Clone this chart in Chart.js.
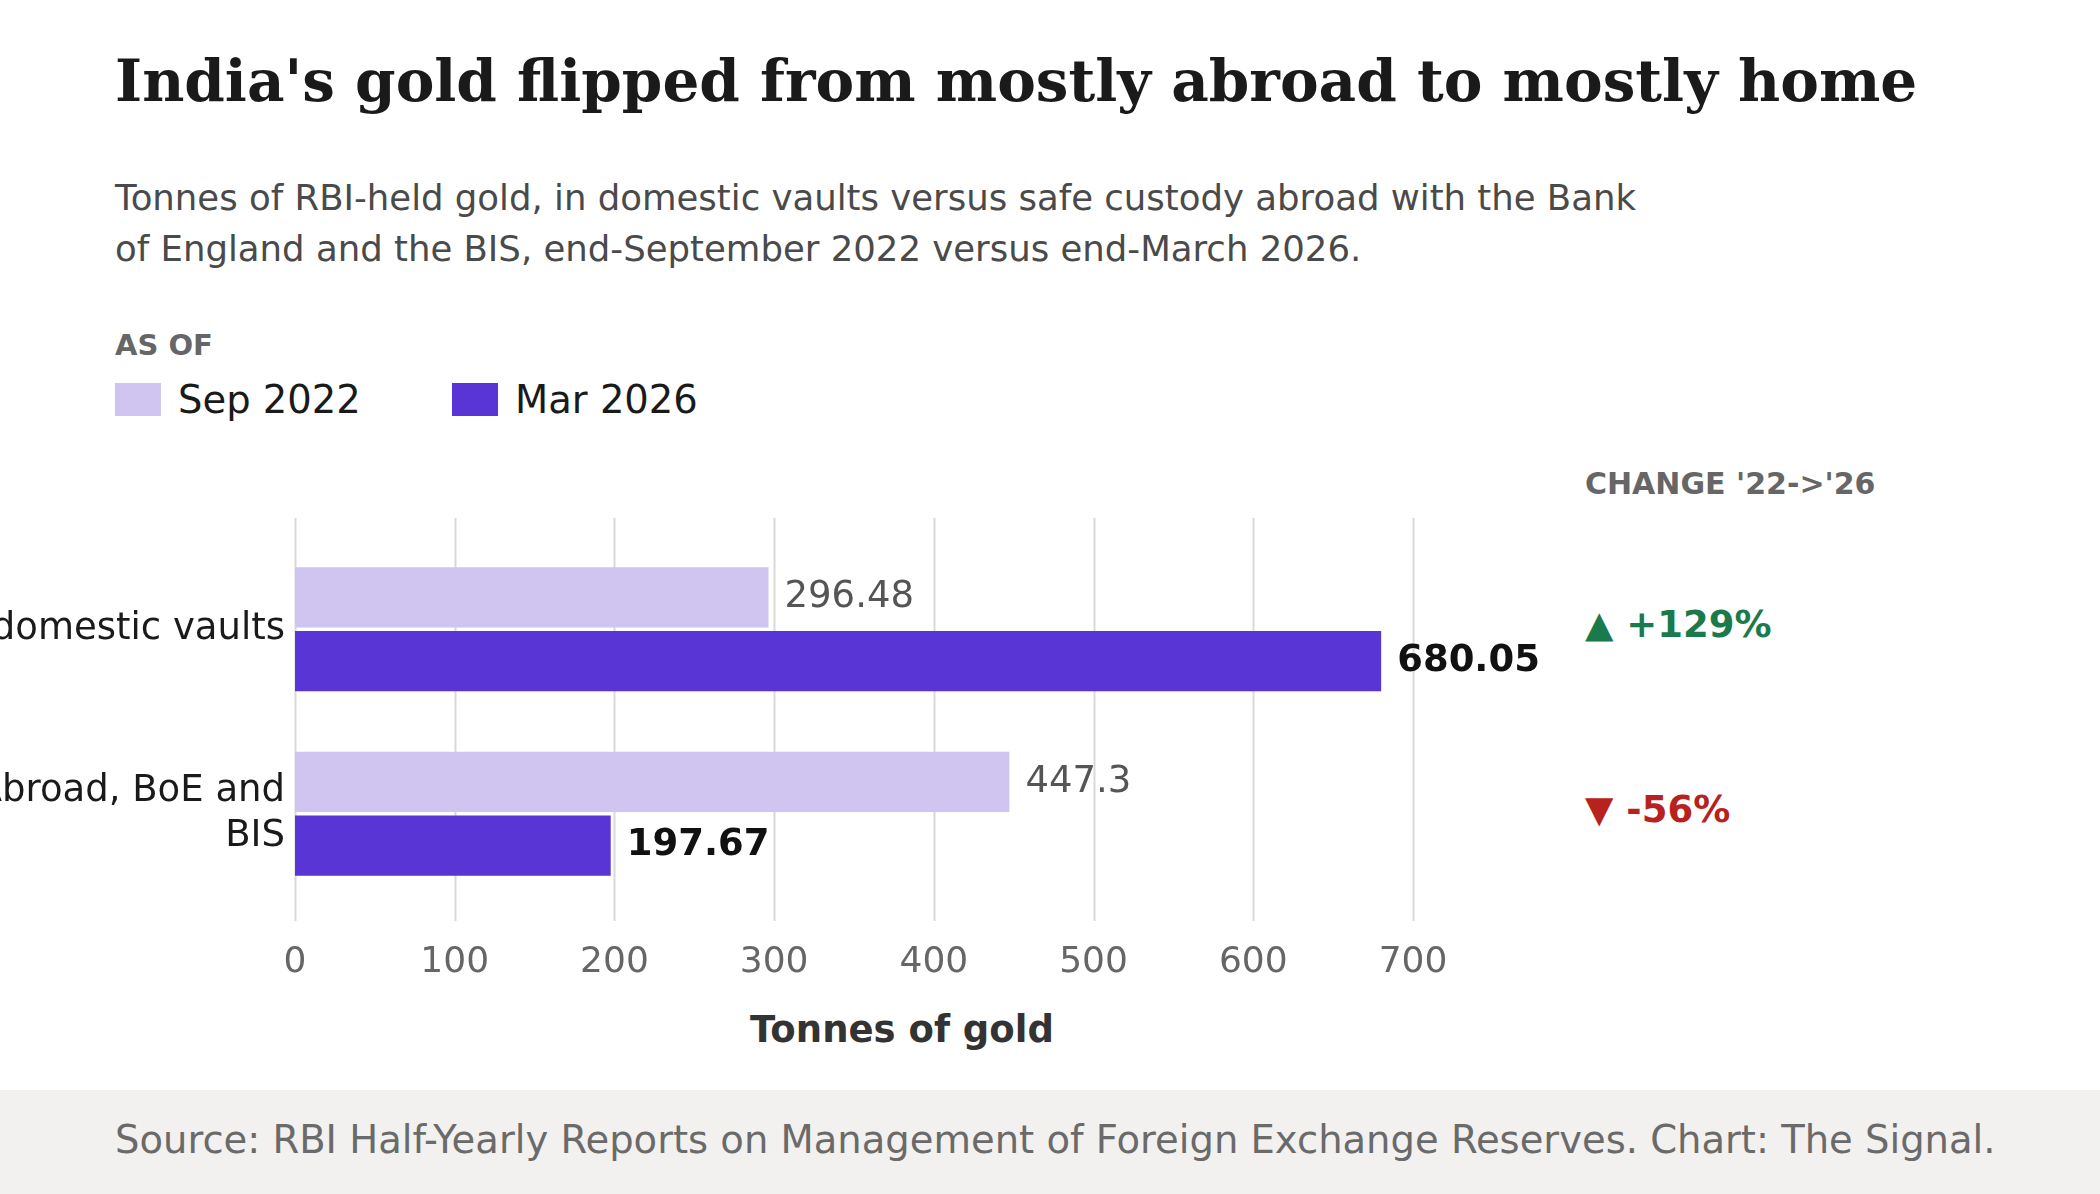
<!DOCTYPE html>
<html>
<head>
<meta charset="utf-8">
<script src="https://cdn.jsdelivr.net/npm/chart.js@4/dist/chart.umd.min.js"></script>
<style>
  body { margin: 0; width: 2100px; height: 1194px; background: #fff; position: relative; overflow: hidden; font-family: "DejaVu Sans", sans-serif; }
  .abs { position: absolute; white-space: nowrap; }
  #title { left: 115px; top: 47px; font-family: "DejaVu Serif", serif; font-weight: bold; font-size: 58px; color: #1a1a1a; }
  #sub { left: 115px; top: 172px; font-size: 35.5px; line-height: 51px; color: #4a4a4a; white-space: normal; width: 1700px; }
  #asof { left: 115px; top: 328px; font-size: 29px; font-weight: bold; color: #666; }
  .leg { top: 377px; font-size: 38.5px; color: #1a1a1a; display: flex; align-items: center; }
  .sw { width: 46px; height: 33px; display: inline-block; margin-right: 17px; }
  #chghead { left: 1585px; top: 466px; font-size: 30px; font-weight: bold; color: #666; }
  .chg { left: 1585px; font-size: 37px; font-weight: bold; }
  #xtitle { left: 0; width: 1804px; text-align: center; top: 1008px; font-size: 37px; font-weight: bold; color: #333; }
  #footer { left: 0; top: 1090px; width: 2100px; height: 104px; background: #f2f1ef; }
  #src { left: 115px; top: 1117px; font-size: 38.5px; color: #6a6a6a; }
  #wrap { position: absolute; left: 0; top: 0; width: 2100px; height: 1194px; }
</style>
</head>
<body>
<div id="footer" class="abs"></div>
<div id="src" class="abs">Source: RBI Half-Yearly Reports on Management of Foreign Exchange Reserves. Chart: The Signal.</div>
<div id="title" class="abs">India's gold flipped from mostly abroad to mostly home</div>
<div id="sub" class="abs">Tonnes of RBI-held gold, in domestic vaults versus safe custody abroad with the Bank<br>of England and the BIS, end-September 2022 versus end-March 2026.</div>
<div id="asof" class="abs">AS OF</div>
<div class="abs leg" style="left:115px"><span class="sw" style="background:#d0c4f0"></span>Sep 2022</div>
<div class="abs leg" style="left:452px"><span class="sw" style="background:#5a35d6"></span>Mar 2026</div>
<div id="chghead" class="abs">CHANGE '22-&gt;'26</div>
<div class="abs chg" style="top:603px;color:#1a7a4c">▲ +129%</div>
<div class="abs chg" style="top:788px;color:#b8221e">▼ -56%</div>
<div id="xtitle" class="abs">Tonnes of gold</div>
<div id="wrap"><canvas id="c"></canvas></div>
<script>
// ---- Data ----
const categories = ['In domestic vaults', ['Abroad, BoE and', 'BIS']];
const seriesNames = ['Sep 2022', 'Mar 2026'];
const sep2022 = [296.48, 447.3];
const mar2026 = [680.05, 197.67];
const xTicks = [0, 100, 200, 300, 400, 500, 600, 700];

// vertical grid lines run a bit past the category band
const gridLines = {
  id: 'gridLines',
  beforeDatasetsDraw(chart) {
    const ctx = chart.ctx, x = chart.scales.x;
    ctx.save();
    ctx.strokeStyle = '#d9d9d9';
    ctx.lineWidth = 2;
    xTicks.forEach(v => {
      const px = Math.round(x.getPixelForValue(v)) + 0.5;
      ctx.beginPath();
      ctx.moveTo(px, 518);
      ctx.lineTo(px, 921);
      ctx.stroke();
    });
    ctx.restore();
  }
};

const valueLabels = {
  id: 'valueLabels',
  afterDatasetsDraw(chart) {
    const ctx = chart.ctx;
    chart.data.datasets.forEach((ds, i) => {
      chart.getDatasetMeta(i).data.forEach((bar, j) => {
        ctx.save();
        ctx.font = (i === 1 ? 'bold ' : '') + '37px "DejaVu Sans"';
        ctx.fillStyle = i === 1 ? '#111' : '#555';
        ctx.textBaseline = 'middle';
        ctx.fillText(String(ds.data[j]), bar.x + 16, bar.y);
        ctx.restore();
      });
    });
  }
};

new Chart(document.getElementById('c'), {
  type: 'bar',
  data: {
    labels: categories,
    datasets: [
      { label: seriesNames[0], data: sep2022, backgroundColor: '#d0c4f0' },
      { label: seriesNames[1], data: mar2026, backgroundColor: '#5a35d6' }
    ]
  },
  options: {
    indexAxis: 'y',
    responsive: true,
    maintainAspectRatio: false,
    animation: false,
    devicePixelRatio: 1,
    layout: { padding: { top: 537, right: 687, left: 0, bottom: 0 } },
    datasets: { bar: { categoryPercentage: 0.69, barPercentage: 0.947 } },
    plugins: { legend: { display: false }, tooltip: { enabled: false } },
    scales: {
      x: {
        min: 0, max: 700,
        afterBuildTicks: s => { s.ticks = xTicks.map(v => ({ value: v })); },
        afterFit: s => { s.height = 288; },
        grid: { display: false },
        border: { display: false },
        ticks: { color: '#666', font: { family: 'DejaVu Sans', size: 36 }, padding: 27 }
      },
      y: {
        afterFit: s => { s.width = 295; },
        grid: { display: false },
        border: { display: false },
        ticks: { color: '#1a1a1a', font: { family: 'DejaVu Sans', size: 37 }, padding: 2 }
      }
    }
  },
  plugins: [gridLines, valueLabels]
});
</script>
</body>
</html>
